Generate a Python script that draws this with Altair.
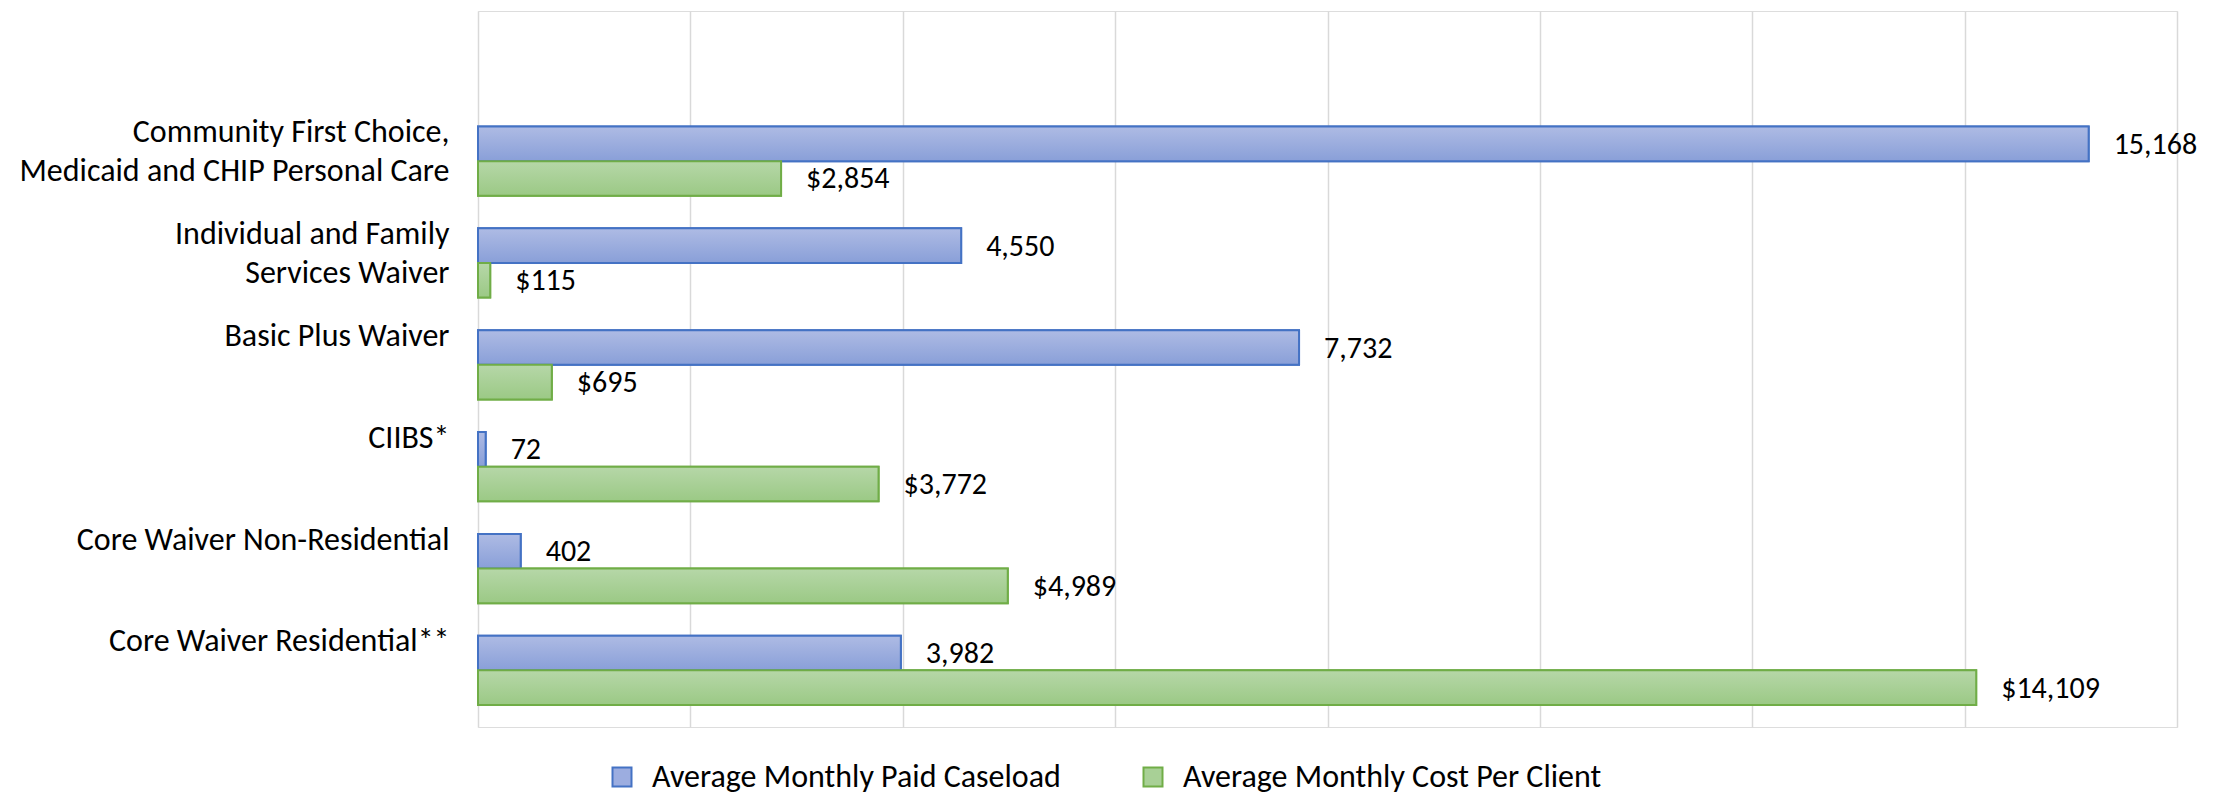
import altair as alt
import pandas as pd

# ---- data ----
categories = [
    "Community First Choice,|Medicaid and CHIP Personal Care",
    "Individual and Family|Services Waiver",
    "Basic Plus Waiver",
    "CIIBS*",
    "Core Waiver Non-Residential",
    "Core Waiver Residential**",
]
caseload = [15168, 4550, 7732, 72, 402, 3982]
cost_per_client = [2854, 115, 695, 3772, 4989, 14109]
series_names = ["Average Monthly Paid Caseload", "Average Monthly Cost Per Client"]
x_ticks = [0, 2000, 4000, 6000, 8000, 10000, 12000, 14000, 16000]

rows = []
for cat, a, b in zip(categories, caseload, cost_per_client):
    rows.append({"category": cat, "series": series_names[0], "value": a, "label": f"{a:,}"})
    rows.append({"category": cat, "series": series_names[1], "value": b, "label": f"${b:,}"})
df = pd.DataFrame(rows)

FONT = "Carlito, Lato, sans-serif"
blue_grad = {"gradient": "linear", "x1": 0, "y1": 0, "x2": 0, "y2": 1,
             "stops": [{"offset": 0, "color": "#aebbe4"}, {"offset": 1, "color": "#899fd8"}]}
green_grad = {"gradient": "linear", "x1": 0, "y1": 0, "x2": 0, "y2": 1,
              "stops": [{"offset": 0, "color": "#b6d7a8"}, {"offset": 1, "color": "#9bc985"}]}

y_enc = alt.Y(
    "category:N",
    sort=categories,
    scale=alt.Scale(domain=categories, paddingInner=0.32, paddingOuter=0.675, align=0.84),
    axis=alt.Axis(
        title=None, domain=False, ticks=False,
        labelExpr="split(datum.label, '|')",
        labelFontSize=32, labelLineHeight=39, labelBaseline="top",
        labelOffset=-44, labelPadding=29, labelColor="#000000",
        labelLimit=0, labelAlign="right", labelFont=FONT,
    ),
)
x_enc = alt.X(
    "value:Q",
    scale=alt.Scale(domain=[0, 16000], nice=False, zero=True),
    axis=alt.Axis(values=x_ticks, labels=False, ticks=False, domain=False,
                  grid=True, gridColor="#d9d9d9", gridWidth=1.5, title=None),
)
yoff_enc = alt.YOffset("series:N", sort=series_names,
                       scale=alt.Scale(domain=series_names, paddingInner=0, paddingOuter=0))

legend = alt.Legend(
    title=None, orient="none", legendX=128, legendY=750, direction="horizontal",
    symbolType="square", symbolSize=361, symbolStrokeWidth=2,
    labelFontSize=32, labelOffset=14, columnPadding=76, labelColor="#000000",
    labelLimit=0, labelFont=FONT,
)

base = alt.Chart(df)

legend_bars = base.mark_bar(strokeWidth=2).encode(
    x=x_enc, y=y_enc, yOffset=yoff_enc,
    fill=alt.Fill("series:N", sort=series_names,
                  scale=alt.Scale(domain=series_names, range=["#9cade0", "#a8d096"]),
                  legend=legend),
    stroke=alt.Stroke("series:N", sort=series_names,
                      scale=alt.Scale(domain=series_names, range=["#4472c4", "#70ad47"]),
                      legend=legend),
)

grad_bars = base.mark_bar(strokeWidth=2).encode(
    x=x_enc, y=y_enc, yOffset=yoff_enc,
    fill=alt.condition(alt.datum.series == series_names[0], alt.value(blue_grad), alt.value(green_grad)),
    stroke=alt.condition(alt.datum.series == series_names[0], alt.value("#4472c4"), alt.value("#70ad47")),
)

labels = base.mark_text(align="left", baseline="middle", dx=25, dy=1,
                        fontSize=30, color="#000000", font=FONT).encode(
    x=x_enc, y=y_enc, yOffset=yoff_enc, text="label:N",
)

chart = alt.layer(legend_bars, grad_bars, labels).properties(
    width=1699, height=716,
    padding={"left": 470, "top": 3, "right": 41, "bottom": 68},
    autosize=alt.AutoSizeParams(type="none"),
).configure_view(stroke=None).configure(font=FONT, background="white")

chart.save("out.html", embed_options={"renderer": "svg", "actions": False})
